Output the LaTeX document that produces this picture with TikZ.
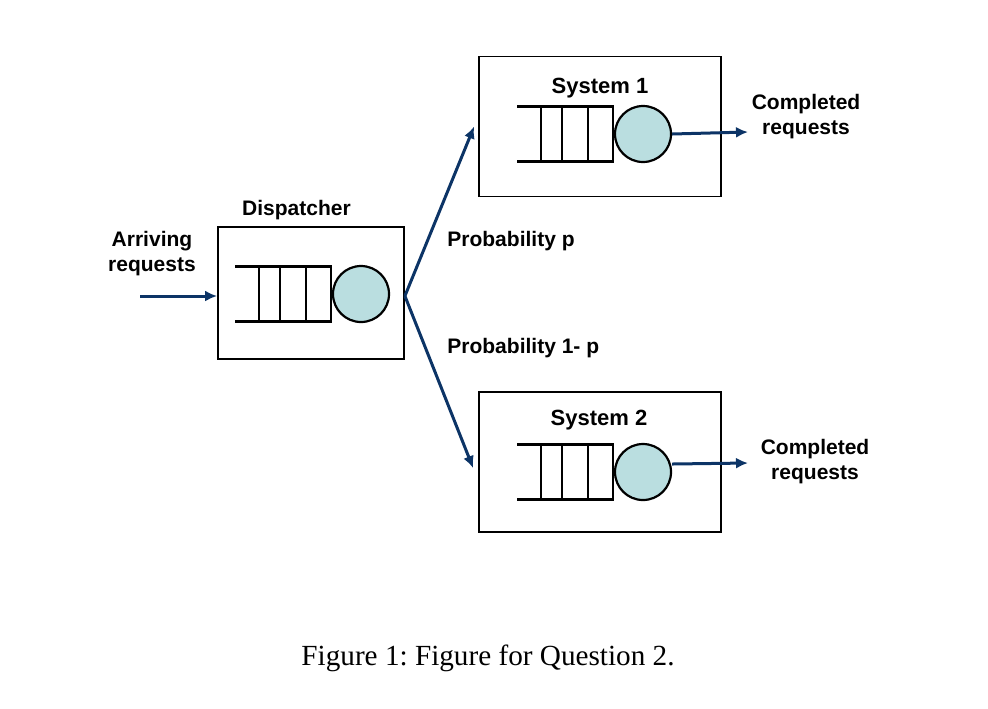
\documentclass[tikz,border=0pt]{standalone}
\usepackage{fontspec}
\setmainfont{Liberation Sans}
\newfontfamily\capfont{Liberation Serif}
\usetikzlibrary{arrows.meta}
\frenchspacing
\definecolor{pfeil}{RGB}{12,52,102}
\definecolor{bedien}{RGB}{186,222,224}
\tikzset{
	kasten/.style={draw,line width=0.9pt,minimum width=#1,minimum height=70pt,inner sep=0},
	bediener/.style={circle,draw,line width=1.1pt,fill=bedien,minimum size=28pt,inner sep=0},
	warteschlange/.style={line width=1.1pt},
	fluss/.style={draw=pfeil,line width=1.5pt,-{Latex[length=6pt,width=5.5pt]}},
	beschriftung/.style={font=\fontsize{10.5}{12.5}\selectfont\bfseries,align=center,inner sep=0},
}
\begin{document}
\begin{tikzpicture}[x=0.5pt,y=-0.5pt]
	\useasboundingbox (0,0) rectangle (988,708);
	\node[kasten=93pt,minimum height=66pt] (Verteiler) at (311,293){};
	\node[kasten=121pt] (System1) at (600,126.5){};
	\node[kasten=121pt] (System2) at (600,462){};
	\node[bediener] (Bed0) at (361,294){};
	\node[bediener] (Bed1) at (643,134){};
	\node[bediener] (Bed2) at (643,472){};
	% Warteschlangen vor den Bedienern
	\foreach \b in {Bed0,Bed1,Bed2}{
		\draw [warteschlange] ([shift={(-126,-27.5)}]\b.center) -- ([shift={(-30,-27.5)}]\b.center) -- ([shift={(-30,27.5)}]\b.center) -- ([shift={(-126,27.5)}]\b.center);
		\foreach \s in {-102,-81,-55}
			\draw [warteschlange] ([shift={(\s,-27.5)}]\b.center) -- ([shift={(\s,27.5)}]\b.center);
	}
	\node[beschriftung,anchor=base] (Verteilertext) at (296.5,215) {Dispatcher};
	\node[beschriftung,anchor=base,font=\fontsize{11}{13}\selectfont\bfseries] (System1text) at (600,93) {System 1};
	\node[beschriftung,anchor=base,font=\fontsize{11}{13}\selectfont\bfseries] (System2text) at (599,425.5) {System 2};
	\node[beschriftung] (Ankunft) at (152,254) {Arriving\\requests};
	\node[beschriftung] (Fertig1) at (806,116.5) {Completed\\requests};
	\node[beschriftung] (Fertig2) at (815,462) {Completed\\requests};
	\node[beschriftung,anchor=base west] (Wahrsch1) at (447,246.5) {Probability p};
	\node[beschriftung,anchor=base west] (Wahrsch2) at (447,353) {Probability 1- p};
	\coordinate (Ein) at (140,296);
	\coordinate (Aus1) at (748,132);
	\coordinate (Aus2) at (748,463);
	\draw [fluss] (Ein) -- (Ein -| Verteiler.west);
	\draw [fluss] ([yshift=-1.5pt]Verteiler.east) -- ([xshift=-2pt]System1.west);
	\draw [fluss] ([yshift=-1.5pt]Verteiler.east) -- ([xshift=-2.5pt,yshift=-3pt]System2.west);
	\draw [fluss] (Bed1.east) -- (Aus1);
	\draw [fluss] ([yshift=4pt]Bed2.east) -- (Aus2);
	\node[anchor=base,font=\capfont\fontsize{14.6}{17}\selectfont] (Unterschrift) at (488,665) {Figure 1: Figure for Question 2.};
\end{tikzpicture}
\end{document}
